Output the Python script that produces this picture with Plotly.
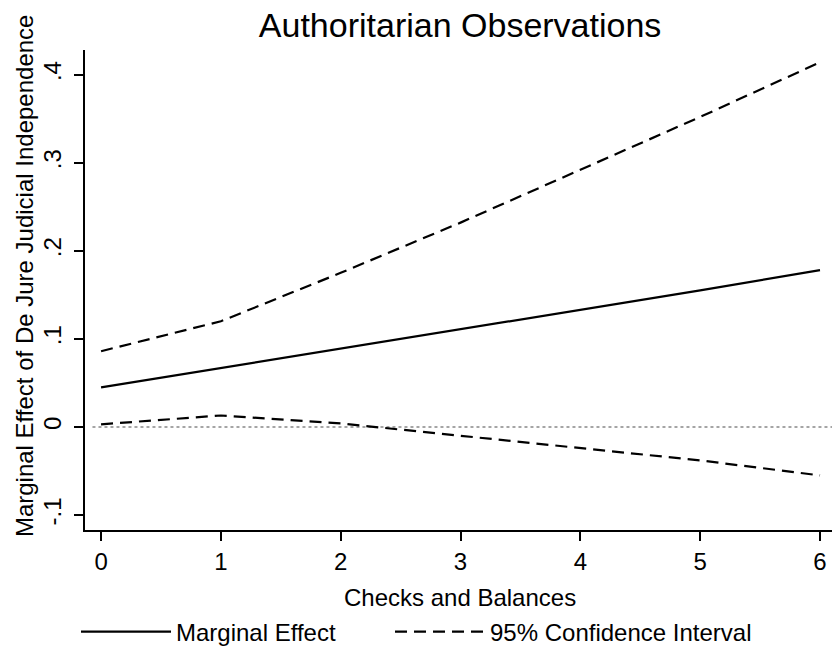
import plotly.graph_objects as go

checks = [0, 1, 2, 3, 4, 5, 6]
marginal_effect = [0.045, 0.067, 0.089, 0.111, 0.133, 0.155, 0.178]
ci_upper = [0.086, 0.120, 0.175, 0.232, 0.292, 0.352, 0.414]
ci_lower = [0.003, 0.013, 0.004, -0.010, -0.024, -0.038, -0.055]

y_tickvals = [-0.1, 0, 0.1, 0.2, 0.3, 0.4]
y_ticktext = ["-.1", "0", ".1", ".2", ".3", ".4"]
x_tickvals = [0, 1, 2, 3, 4, 5, 6]

font_family = "Liberation Sans, Arial, sans-serif"
dash = "12px,7px"

fig = go.Figure()
fig.add_trace(go.Scatter(x=checks, y=marginal_effect, mode="lines",
                         name="Marginal Effect", legend="legend",
                         line=dict(color="black", width=2.2)))
fig.add_trace(go.Scatter(x=checks, y=ci_upper, mode="lines",
                         name="95% Confidence Interval", legend="legend2",
                         line=dict(color="black", width=2.2, dash=dash)))
fig.add_trace(go.Scatter(x=checks, y=ci_lower, mode="lines",
                         name="lower", showlegend=False,
                         line=dict(color="black", width=2.2, dash=dash)))

fig.add_shape(type="line", xref="paper", x0=0.01, x1=1, yref="y", y0=0, y1=0,
              line=dict(color="#888888", width=1.5, dash="dot"), layer="below")

# axis titles as annotations for exact placement
fig.add_annotation(text="Checks and Balances", xref="paper", yref="paper",
                   x=0.502, y=-0.1396, xanchor="center", yanchor="middle",
                   showarrow=False, font=dict(size=24))
fig.add_annotation(text="Marginal Effect of De Jure Judicial Independence",
                   xref="paper", yref="paper", x=-0.0817, y=0.531,
                   xanchor="center", yanchor="middle", textangle=-90,
                   showarrow=False, font=dict(size=24))

legend_common = dict(orientation="h", xanchor="left", yref="container",
                     xref="container", y=1 - 632 / 651, yanchor="middle",
                     font=dict(size=24), itemwidth=90,
                     bgcolor="rgba(0,0,0,0)")

fig.update_layout(
    width=832, height=651,
    paper_bgcolor="white", plot_bgcolor="white",
    margin=dict(l=85, r=0, t=50, b=121),
    font=dict(family=font_family, color="black", size=24),
    title=dict(text="Authoritarian Observations", x=0.553, xanchor="center",
               y=1 - 25 / 651, yanchor="middle", font=dict(size=34)),
    showlegend=True,
    legend=dict(x=76 / 832, **legend_common),
    legend2=dict(x=390 / 832, **legend_common),
    xaxis=dict(range=[-0.134, 6.1], tickvals=x_tickvals, ticks="outside",
               ticklen=9, tickwidth=1.5, tickcolor="black",
               showline=True, linecolor="black", linewidth=1.5,
               showgrid=False, zeroline=False, automargin=False),
    yaxis=dict(range=[-0.117, 0.428], tickvals=y_tickvals, ticktext=y_ticktext,
               tickangle=-90, ticks="outside", ticklen=9, tickwidth=1.5,
               tickcolor="black", showline=True, linecolor="black", linewidth=1.5,
               showgrid=False, zeroline=False, automargin=False,
               ticklabelstandoff=4),
)

fig.write_html("out.html", config={"displayModeBar": False},
               post_script="document.body.style.margin='0';document.body.style.overflow='hidden';")
